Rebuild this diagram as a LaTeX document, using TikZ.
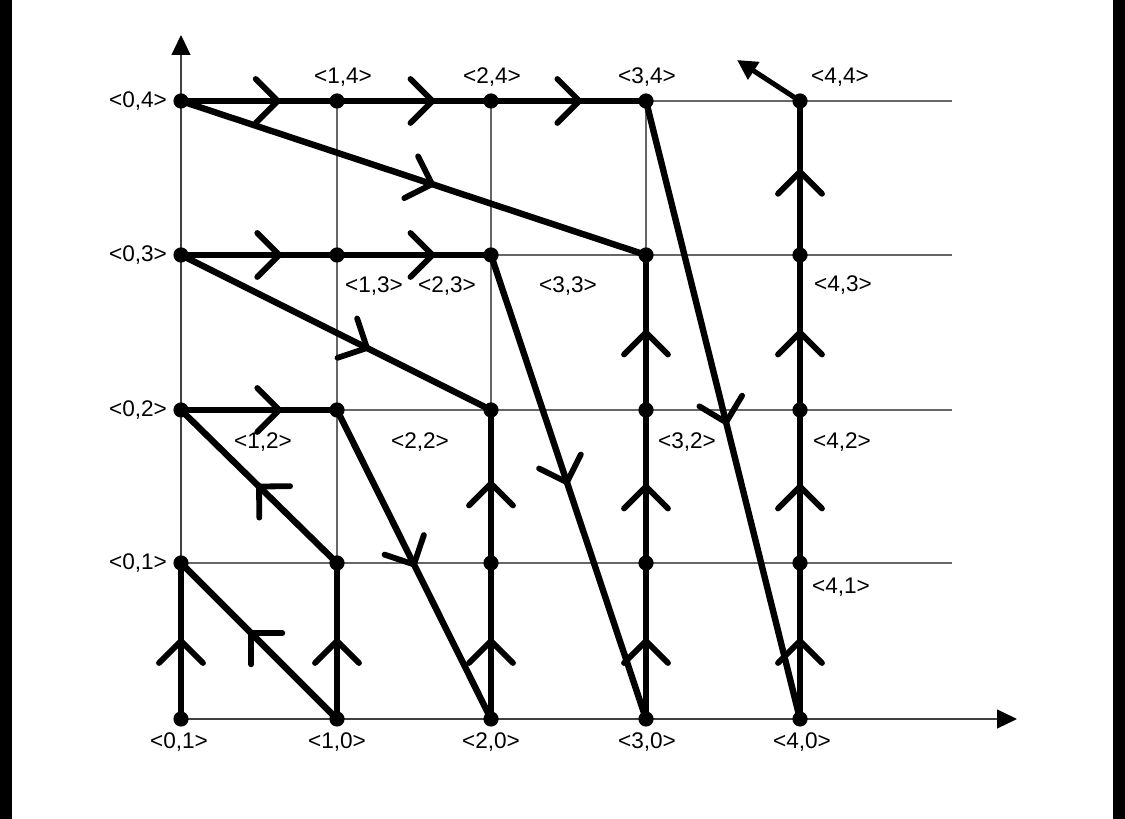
\documentclass[tikz,border=0pt]{standalone}
\usepackage{fontspec}
\setmainfont{Liberation Sans}
\usetikzlibrary{decorations.markings,arrows.meta}
\begin{document}
\begin{tikzpicture}[x=0.5pt,y=0.5pt,
  gridline/.style={draw=black!60,line width=0.55pt},
  axisline/.style={draw=black!75,line width=0.6pt,-{Triangle[length=10pt,width=9.5pt,color=black]}},
  gdot/.style={circle,fill=black,inner sep=0pt,minimum size=7.6pt},
  lbl/.style={font=\fontsize{11.3}{13}\selectfont,inner sep=0pt},
  flow/.style={line width=3.2pt,line cap=round,line join=round,
     postaction={decorate,decoration={markings,
        mark=at position #1 with {\draw[line width=2.9pt,line cap=round,line join=round] (-22,22)--(0,0)--(-22,-22);}}}},
  flow/.default=0.5]
\useasboundingbox (0,0) rectangle (1125,819);
\fill[white] (0,0) rectangle (1125,819);
\fill[black] (0,0) rectangle (12,819);
\fill[black] (1113,0) rectangle (1125,819);
% grid coordinates
\foreach \i/\x in {0/181,1/337,2/491,3/646,4/800}
  \foreach \j/\y in {0/100,1/256,2/409,3/564,4/718}
    \coordinate (g\i\j) at (\x,\y);
\coordinate (r1) at (952,256);
\coordinate (r2) at (952,409);
\coordinate (r3) at (952,564);
\coordinate (r4) at (952,718);
\coordinate (ytop) at (181,784);
\coordinate (xend) at (1017,100);
% thin grid
\foreach \i in {1,2,3,4} \draw[gridline] (g\i0) -- (g\i4);
\foreach \j in {1,2,3,4} \draw[gridline] (g0\j) -- (r\j);
\draw[axisline] (g00) -- (ytop);
\draw[axisline] (g00) -- (xend);
% dots
\foreach \i in {0,1,2,3,4}
  \foreach \j in {0,1,2,3,4}
    \node[gdot] (n\i\j) at (g\i\j) {};
% thick path
\draw[flow=0.5]  (n00.center) -- (n01.center);
\draw[flow=0.55] (n10.center) -- (n01.center);
\draw[flow=0.5]  (n10.center) -- (n11.center);
\draw[flow=0.5]  (n11.center) -- (n02.center);
\draw[flow=0.63] (n02.center) -- (n12.center);
\draw[flow=0.5]  (n12.center) -- (n20.center);
\draw[flow=0.5]  (n20.center) -- (n21.center);
\draw[flow=0.52] (n21.center) -- (n22.center);
\draw[flow=0.6]  (n03.center) -- (n22.center);
\draw[flow=0.63] (n03.center) -- (n13.center);
\draw[flow=0.62] (n13.center) -- (n23.center);
\draw[flow=0.49] (n23.center) -- (n30.center);
\draw[flow=0.5]  (n30.center) -- (n31.center);
\draw[flow=0.5]  (n31.center) -- (n32.center);
\draw[flow=0.5]  (n32.center) -- (n33.center);
\draw[flow=0.54] (n04.center) -- (n33.center);
\draw[flow=0.62] (n04.center) -- (n14.center);
\draw[flow=0.62] (n14.center) -- (n24.center);
\draw[flow=0.57] (n24.center) -- (n34.center);
\draw[flow=0.52] (n34.center) -- (n40.center);
\draw[flow=0.5]  (n40.center) -- (n41.center);
\draw[flow=0.5]  (n41.center) -- (n42.center);
\draw[flow=0.5]  (n42.center) -- (n43.center);
\draw[flow=0.54] (n43.center) -- (n44.center);
\coordinate (tip) at (737,759);
\draw[line width=2.5pt,-{Triangle[length=10pt,width=10pt]}] (n44.center) -- (tip);
% labels
\node[lbl] (l04) at (138,718) {<0,4>};
\node[lbl] (l14) at (343,742) {<1,4>};
\node[lbl] (l24) at (492,742) {<2,4>};
\node[lbl] (l34) at (647,742) {<3,4>};
\node[lbl] (l44) at (840,742) {<4,4>};
\node[lbl] (l03) at (138,564) {<0,3>};
\node[lbl] (l13) at (374,533) {<1,3>};
\node[lbl] (l23) at (447,533) {<2,3>};
\node[lbl] (l33) at (568,533) {<3,3>};
\node[lbl] (l43) at (843,534) {<4,3>};
\node[lbl] (l02) at (138,409) {<0,2>};
\node[lbl] (l12) at (263,377) {<1,2>};
\node[lbl] (l22) at (420,377) {<2,2>};
\node[lbl] (l32) at (687,377) {<3,2>};
\node[lbl] (l42) at (842,377) {<4,2>};
\node[lbl] (l01) at (138,256) {<0,1>};
\node[lbl] (l41) at (841,232) {<4,1>};
\node[lbl] (l00) at (179,77) {<0,1>};
\node[lbl] (l10) at (337,77) {<1,0>};
\node[lbl] (l20) at (491,77) {<2,0>};
\node[lbl] (l30) at (647,77) {<3,0>};
\node[lbl] (l40) at (802,77) {<4,0>};
\end{tikzpicture}
\end{document}
